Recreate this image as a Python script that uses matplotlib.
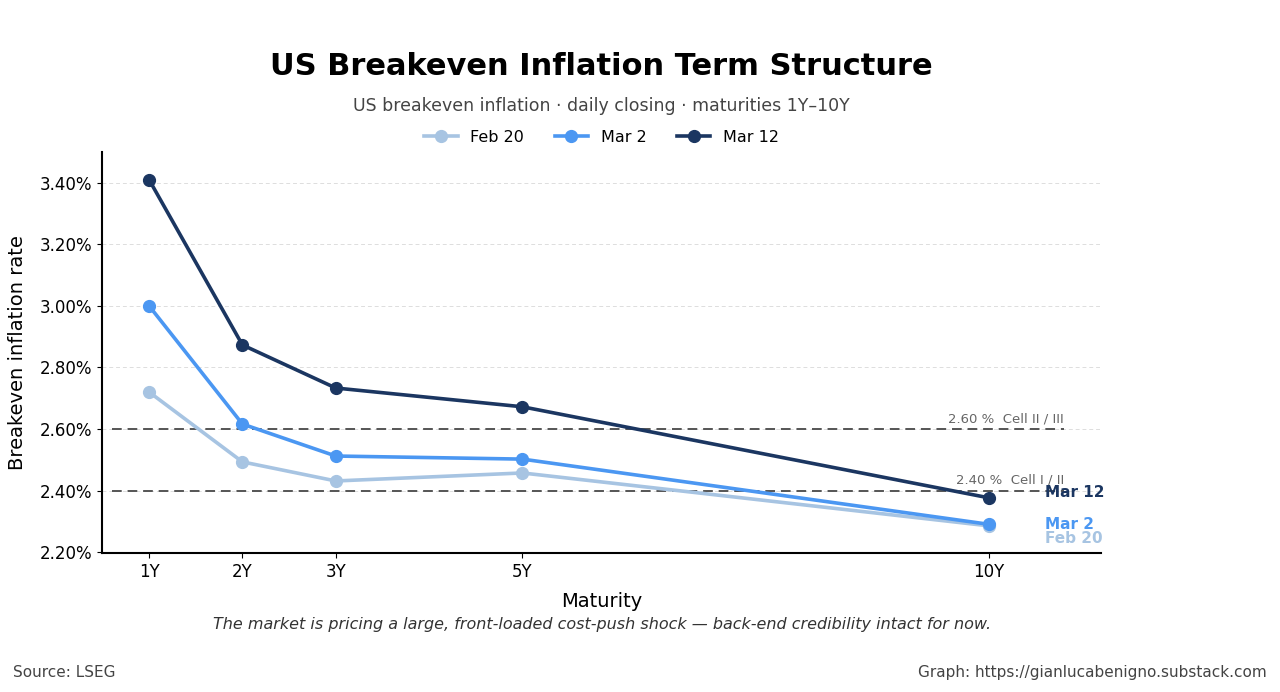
import matplotlib
matplotlib.use("Agg")
import matplotlib.pyplot as plt
from matplotlib.ticker import FuncFormatter

# Maturities in years and their tick labels
maturities = [1, 2, 3, 5, 10]
tick_labels = ["1Y", "2Y", "3Y", "5Y", "10Y"]

# Breakeven rates (%)
feb20 = [2.72, 2.493, 2.431, 2.457, 2.285]
mar2 = [3.00, 2.616, 2.512, 2.502, 2.290]
mar12 = [3.41, 2.873, 2.733, 2.672, 2.376]

series_names = ["Feb 20", "Mar 2", "Mar 12"]
colors = ["#a7c4e2", "#4b97f2", "#1b3661"]

# reference levels
ref_levels = [2.60, 2.40]
ref_labels = ["2.60 %  Cell II / III", "2.40 %  Cell I / II"]


def main():
    fig = plt.figure(figsize=(12.8, 6.92), dpi=100)
    ax = fig.add_axes([0.0797, 0.2009, 0.7806, 0.5795])

    for name, vals, col in zip(series_names, [feb20, mar2, mar12], colors):
        ax.plot(maturities, vals, color=col, lw=2.6, marker="o", ms=8.5, label=name, zorder=3)

    for lvl, lab in zip(ref_levels, ref_labels):
        ax.hlines(lvl, 0.6, 10.8, colors="#555555", linestyles=(0, (5, 3)), lw=1.4, zorder=2)
        ax.text(10.8, lvl + 0.012, lab, ha="right", va="bottom", fontsize=9.5, color="#666666")

    # end labels
    label_y = [2.245, 2.29, 2.393]
    for name, col, yy in zip(series_names, colors, label_y):
        ax.text(10.6, yy, name, color=col, fontsize=11, fontweight="bold", va="center", ha="left")

    ax.set_xlim(0.496, 11.2)
    ax.set_ylim(2.197, 3.5)
    ax.set_xticks(maturities)
    ax.set_xticklabels(tick_labels)
    ax.set_yticks([2.2, 2.4, 2.6, 2.8, 3.0, 3.2, 3.4])
    ax.yaxis.set_major_formatter(FuncFormatter(lambda v, p: f"{v:.2f}%"))
    ax.tick_params(labelsize=12)
    ax.grid(axis="y", color="#dddddd", lw=0.7, ls=(0, (4, 3)))
    ax.set_axisbelow(True)
    for s in ["top", "right"]:
        ax.spines[s].set_visible(False)
    for s in ["left", "bottom"]:
        ax.spines[s].set_linewidth(1.5)

    ax.set_xlabel("Maturity", fontsize=14, labelpad=8)
    ax.set_ylabel("Breakeven inflation rate", fontsize=14, labelpad=9)

    fig.text(0.47, 0.904, "US Breakeven Inflation Term Structure", ha="center", va="center",
             fontsize=22, fontweight="bold")
    fig.text(0.47, 0.847, "US breakeven inflation · daily closing · maturities 1Y–10Y",
             ha="center", va="center", fontsize=12.5, color="#444444")
    fig.legend(loc="center", bbox_to_anchor=(0.47, 0.802), ncol=3, frameon=False,
               fontsize=11.5, handlelength=2.1, columnspacing=1.9)
    fig.text(0.47, 0.097, "The market is pricing a large, front-loaded cost-push shock — back-end credibility intact for now.",
             ha="center", va="center", fontsize=11.5, style="italic", color="#333333")
    fig.text(0.01, 0.028, "Source: LSEG", ha="left", va="center", fontsize=11, color="#444444")
    fig.text(0.99, 0.028, "Graph: https://gianlucabenigno.substack.com", ha="right", va="center",
             fontsize=11, color="#444444")

    fig.savefig("out.png", dpi=100)


if __name__ == "__main__":
    main()
